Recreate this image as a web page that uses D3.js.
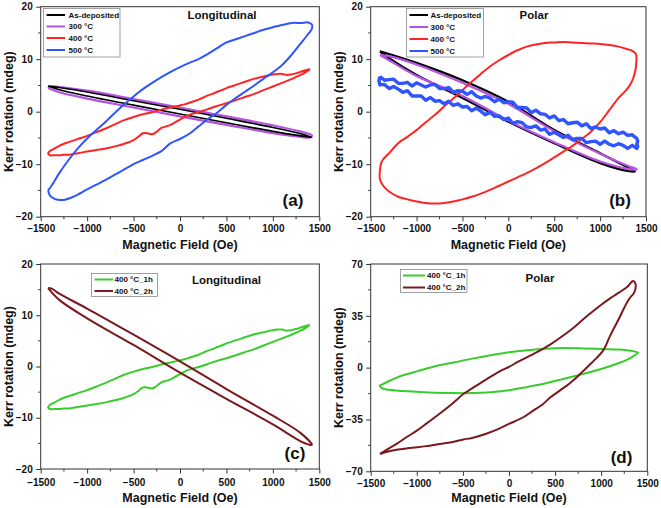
<!DOCTYPE html>
<html><head><meta charset="utf-8">
<script src="https://cdn.jsdelivr.net/npm/d3@7"></script>
<style>
body{margin:0;background:#fff}
svg{display:block}
text{font-family:"Liberation Sans",Arial,Helvetica,sans-serif;font-weight:bold;fill:#111}
</style>
</head><body>
<svg id="chart" width="661" height="508"></svg>
<script>
// ---------------- DATA ----------------
const xTicks = [-1500, -1000, -500, 0, 500, 1000, 1500];
const yTicksA = [-20, -10, 0, 10, 20];
const yTicksB = [-20, -10, 0, 10, 20];
const yTicksC = [-20, -10, 0, 10, 20];
const yTicksD = [-70, -35, 0, 35, 70];

const legendAB = ["As-deposited", "300 °C", "400 °C", "500 °C"];
const legendCD = ["400 °C_1h", "400 °C_2h"];

// Panel (a) Longitudinal  [field (Oe), Kerr rotation (mdeg)]
const a_asDeposited = [[-1420,4.9],[-1300,4.6],[-1000,3.75],[-500,2.1],[0,0.45],[500,-1.25],[1000,-3.0],[1300,-4.2],[1420,-4.9],[1300,-4.6],[1000,-3.75],[500,-2.1],[0,-0.45],[-500,1.25],[-1000,3.0],[-1300,4.2],[-1420,4.9]];
const a_300C = [[-1420,4.5],[-1400,4.8],[-1300,4.7],[-1000,4.0],[-500,2.4],[0,0.8],[500,-0.9],[1000,-2.6],[1300,-3.8],[1420,-4.5],[1400,-4.9],[1300,-4.8],[1000,-4.1],[500,-2.5],[0,-0.9],[-500,0.8],[-1000,2.5],[-1300,3.7],[-1420,4.5]];
const a_400C = [[1400,8.1],[1350,7.9],[1300,7.6],[1250,7.3],[1200,7.1],[1150,7.0],[1100,7.2],[1050,7.2],[1000,7.1],[950,6.9],[900,6.7],[850,6.5],[800,6.3],[750,6.0],[700,5.7],[650,5.4],[600,5.1],[550,4.8],[500,4.5],[450,4.1],[400,3.8],[350,3.4],[300,3.1],[250,2.7],[200,2.3],[150,2.0],[100,1.7],[50,1.4],[0,1.2],[-50,1.0],[-100,0.8],[-200,0.4],[-300,-0.1],[-400,-0.5],[-500,-1.0],[-600,-1.6],[-700,-2.4],[-800,-3.2],[-900,-3.9],[-1000,-4.6],[-1100,-5.2],[-1200,-5.8],[-1250,-6.1],[-1300,-6.5],[-1350,-7.0],[-1400,-7.5],[-1420,-8.0],[-1400,-8.3],[-1350,-8.3],[-1300,-8.3],[-1250,-8.2],[-1200,-8.2],[-1100,-7.9],[-1000,-7.6],[-900,-7.3],[-800,-7.0],[-700,-6.6],[-600,-6.1],[-500,-5.4],[-450,-4.8],[-400,-4.1],[-350,-4.1],[-300,-4.3],[-250,-3.8],[-200,-3.1],[-150,-2.8],[-100,-2.5],[-50,-2.0],[0,-1.5],[50,-1.0],[100,-0.6],[200,-0.1],[300,0.5],[400,1.1],[500,1.6],[600,2.2],[700,2.8],[800,3.4],[900,4.1],[1000,4.8],[1100,5.5],[1200,6.2],[1300,7.0],[1350,7.5],[1400,8.1]];
const a_500C = [[-1420,-15.0],[-1400,-16.0],[-1350,-16.6],[-1300,-16.8],[-1250,-16.8],[-1150,-16.2],[-1000,-14.8],[-900,-13.9],[-800,-13.0],[-700,-12.0],[-600,-11.0],[-500,-10.0],[-400,-9.2],[-300,-8.4],[-200,-7.5],[-100,-6.0],[0,-5.2],[100,-4.2],[200,-2.8],[300,-1.4],[400,-0.2],[500,1.3],[600,2.6],[700,3.8],[800,5.0],[900,6.3],[1000,7.5],[1100,8.9],[1200,10.8],[1300,13.0],[1380,14.8],[1420,15.8],[1420,16.6],[1380,17.0],[1300,16.9],[1200,16.9],[1100,16.5],[1000,16.1],[900,15.6],[800,15.0],[700,14.4],[600,13.8],[500,13.2],[400,12.1],[300,11.0],[200,10.0],[100,9.3],[0,8.5],[-100,7.6],[-200,6.6],[-300,5.5],[-400,4.3],[-500,2.9],[-600,1.4],[-700,-0.2],[-800,-1.9],[-900,-3.5],[-1000,-5.1],[-1100,-7.0],[-1200,-9.2],[-1300,-11.7],[-1380,-14.0],[-1420,-15.0]];

// Panel (b) Polar
const b_asDeposited = [[-1400,11.5],[-1300,11.0],[-1000,9.3],[-500,6.0],[0,1.9],[500,-3.5],[1000,-7.9],[1300,-10.6],[1380,-11.4],[1300,-11.3],[1000,-9.8],[500,-6.0],[0,-1.9],[-500,2.6],[-1000,7.0],[-1300,10.2],[-1400,11.5]];
const b_300C = [[-1400,10.8],[-1300,10.6],[-1000,9.0],[-500,5.5],[0,1.5],[500,-3.7],[1000,-8.0],[1300,-10.3],[1400,-11.0],[1300,-10.9],[1000,-9.5],[500,-5.8],[0,-1.7],[-500,3.0],[-1000,6.8],[-1300,9.8],[-1400,10.8]];
const b_400C = [[-1400,-11.4],[-1380,-9.5],[-1300,-7.9],[-1200,-6.0],[-1100,-4.8],[-1000,-3.5],[-900,-2.0],[-800,-0.6],[-700,1.0],[-600,2.5],[-500,4.1],[-400,5.7],[-300,7.2],[-200,8.6],[-100,9.8],[0,10.8],[100,11.7],[200,12.4],[300,12.8],[400,13.1],[500,13.2],[600,13.3],[700,13.2],[800,13.1],[900,13.0],[1000,12.9],[1100,12.7],[1200,12.4],[1300,11.9],[1350,11.6],[1390,11.0],[1395,9.5],[1380,7.5],[1340,5.5],[1280,4.0],[1200,2.6],[1100,0.3],[1000,-2.0],[900,-3.8],[800,-5.2],[700,-6.5],[600,-7.6],[500,-8.7],[400,-9.8],[300,-10.8],[200,-11.7],[100,-12.5],[0,-13.3],[-100,-14.1],[-200,-14.9],[-300,-15.6],[-400,-16.2],[-500,-16.7],[-600,-17.1],[-700,-17.4],[-800,-17.5],[-900,-17.4],[-1000,-17.1],[-1100,-16.7],[-1200,-16.2],[-1300,-15.2],[-1360,-14.2],[-1400,-12.8],[-1400,-11.4]];
const b_500C = [[-1400,6.7],[-1350,6.0],[-1300,6.1],[-1250,6.2],[-1200,5.4],[-1150,5.4],[-1100,5.6],[-1050,4.9],[-1000,5.5],[-950,5.1],[-900,4.7],[-850,5.1],[-800,5.2],[-750,4.4],[-700,4.4],[-650,4.6],[-600,3.7],[-550,4.0],[-500,3.9],[-450,3.3],[-400,3.8],[-350,3.0],[-300,2.6],[-250,2.9],[-200,2.6],[-150,1.9],[-100,2.4],[-50,1.7],[0,1.9],[50,1.8],[100,0.8],[150,0.8],[200,0.7],[250,-0.2],[300,0.3],[350,-0.4],[400,-0.5],[450,-1.2],[500,-0.8],[550,-1.7],[600,-1.5],[650,-2.3],[700,-2.1],[750,-2.0],[800,-2.7],[850,-2.3],[900,-3.2],[950,-2.9],[1000,-3.3],[1050,-3.1],[1100,-4.0],[1150,-3.6],[1200,-4.2],[1250,-3.9],[1300,-4.5],[1350,-4.4],[1400,-5.1],[1410,-5.6],[1400,-6.2],[1410,-6.6],[1400,-7.0],[1350,-6.4],[1300,-7.0],[1250,-6.4],[1200,-6.1],[1150,-6.5],[1100,-6.2],[1050,-5.6],[1000,-6.2],[950,-5.6],[900,-5.7],[850,-5.9],[800,-5.1],[750,-5.1],[700,-5.3],[650,-4.5],[600,-4.9],[550,-4.4],[500,-3.9],[450,-4.3],[400,-3.3],[350,-3.5],[300,-2.7],[250,-3.0],[200,-2.9],[150,-2.1],[100,-1.9],[50,-2.2],[0,-1.2],[-50,-1.5],[-100,-0.8],[-150,-0.9],[-200,-0.1],[-250,-0.6],[-300,0.1],[-350,0.7],[-400,0.2],[-450,1.0],[-500,0.9],[-550,1.5],[-600,1.2],[-650,2.0],[-700,1.5],[-750,2.1],[-800,2.0],[-850,2.7],[-900,2.2],[-950,3.0],[-1000,3.0],[-1050,3.0],[-1100,4.0],[-1150,3.7],[-1200,4.3],[-1250,4.8],[-1300,4.4],[-1350,5.2],[-1400,5.1],[-1410,5.9],[-1400,6.7]];

// Panel (c) Longitudinal
const c_400C_1h = a_400C; // same loop as 400 °C in (a)
const c_400C_2h = [[-1420,15.3],[-1380,15.2],[-1300,14.2],[-1000,11.3],[-500,6.2],[0,1.0],[500,-4.4],[1000,-9.6],[1300,-13.0],[1420,-15.3],[1380,-15.2],[1300,-14.6],[1000,-11.3],[500,-6.3],[0,-1.2],[-500,4.2],[-1000,9.4],[-1300,13.0],[-1420,15.3]];

// Panel (d) Polar
const d_400C_1h = [[1390,10.5],[1300,11.6],[1200,12.2],[1000,12.6],[800,13.0],[600,13.2],[400,12.8],[200,11.8],[0,10.4],[-200,8.4],[-400,6.1],[-600,3.5],[-800,1.0],[-1000,-2.5],[-1100,-4.3],[-1200,-6.3],[-1300,-9.0],[-1380,-11.5],[-1400,-12.2],[-1380,-13.8],[-1300,-15.0],[-1200,-15.6],[-1000,-16.3],[-800,-16.9],[-600,-17.2],[-400,-17.2],[-200,-16.6],[0,-15.3],[200,-13.0],[400,-10.5],[600,-7.5],[800,-4.3],[1000,-0.9],[1200,3.3],[1300,5.9],[1370,8.6],[1400,10.0],[1390,10.5]];
const d_400C_2h = [[-1400,-58.3],[-1300,-54.5],[-1220,-51.5],[-1100,-46.5],[-1000,-42.5],[-900,-38.0],[-750,-31.0],[-600,-23.5],[-495,-17.8],[-400,-14.0],[-240,-7.7],[-100,-2.5],[0,0.5],[100,4.0],[230,8.1],[350,12.0],[445,15.5],[550,20.0],[700,27.0],[850,35.0],[990,42.0],[1100,47.0],[1200,51.0],[1280,54.5],[1345,58.5],[1370,57.0],[1360,51.0],[1310,47.0],[1250,40.5],[1200,34.0],[1100,22.0],[1020,11.5],[900,3.5],[800,-2.5],[735,-6.5],[650,-11.0],[550,-15.5],[450,-20.0],[370,-24.5],[250,-29.5],[155,-33.5],[0,-38.0],[-100,-41.0],[-240,-44.5],[-400,-47.5],[-495,-48.5],[-600,-50.0],[-750,-51.5],[-900,-53.0],[-1000,-53.8],[-1100,-54.5],[-1220,-55.5],[-1300,-56.5],[-1400,-58.3]];

// ---------------- DRAWING ----------------
const svg = d3.select("#chart");
svg.append("rect").attr("width",661).attr("height",508).attr("fill","#fff");

const colors = {black:"#000000", purple:"#b652e4", red:"#ff2424", blue:"#2f55ff", green:"#38cc2c", brown:"#7a1a1e"};

function panel(cfg){
  const g = svg.append("g");
  const x = d3.scaleLinear().domain([-1500,1500]).range([cfg.left, cfg.right]);
  const y = d3.scaleLinear().domain(cfg.yDomain).range([cfg.bottom, cfg.top]);

  const xMinor = d3.range(-1250, 1500, 500);
  g.append("g").selectAll("line").data(xMinor).join("line")
    .attr("x1",d=>x(d)).attr("x2",d=>x(d)).attr("y1",cfg.bottom).attr("y2",cfg.bottom+2.5)
    .attr("stroke","#333");
  g.append("g").selectAll("line").data(cfg.yMinor).join("line")
    .attr("y1",d=>y(d)).attr("y2",d=>y(d)).attr("x1",cfg.left).attr("x2",cfg.left-2.5)
    .attr("stroke","#333");

  const xa = g.append("g").attr("transform",`translate(0,${cfg.bottom})`)
    .call(d3.axisBottom(x).tickValues(xTicks).tickSize(4.5).tickPadding(cfg.xPad).tickFormat(d3.format("d")));
  const ya = g.append("g").attr("transform",`translate(${cfg.left},0)`)
    .call(d3.axisLeft(y).tickValues(cfg.yTicks).tickSize(4.5).tickPadding(3.5).tickFormat(d3.format("d")));
  [xa,ya].forEach(a=>{
    a.select(".domain").remove();
    a.selectAll("line").attr("stroke","#333");
    a.selectAll("text").attr("font-size",10).attr("font-family",null).style("font-weight","bold").attr("fill","#111");
  });

  const clipId = "clip"+cfg.id;
  svg.append("clipPath").attr("id",clipId).append("rect")
    .attr("x",cfg.left).attr("y",cfg.top).attr("width",cfg.right-cfg.left).attr("height",cfg.bottom-cfg.top);

  const lineSmooth = d3.line().x(d=>x(d[0])).y(d=>y(d[1])).curve(d3.curveCatmullRom.alpha(0.5));
  const lineRaw = d3.line().x(d=>x(d[0])).y(d=>y(d[1]));
  const cg = g.append("g").attr("clip-path",`url(#${clipId})`);
  cfg.series.forEach(s=>{
    cg.append("path").attr("d",(s.raw?lineRaw:lineSmooth)(s.data))
      .attr("fill","none").attr("stroke",s.color).attr("stroke-width",s.w||2)
      .attr("stroke-linejoin","round");
  });

  g.append("rect").attr("x",cfg.left).attr("y",cfg.top)
    .attr("width",cfg.right-cfg.left).attr("height",cfg.bottom-cfg.top)
    .attr("fill","none").attr("stroke","#333").attr("stroke-width",1);

  g.append("text").attr("x",(cfg.left+cfg.right)/2).attr("y",cfg.xTitleY)
    .attr("text-anchor","middle").attr("font-size",12.5).text("Magnetic Field (Oe)");
  g.append("text").attr("transform",`translate(${cfg.yTitleX},${(cfg.top+cfg.bottom)/2}) rotate(-90)`)
    .attr("text-anchor","middle").attr("font-size",12.5).text("Kerr rotation (mdeg)");

  g.append("text").attr("x",cfg.titleX).attr("y",cfg.titleY).attr("text-anchor","middle")
    .attr("font-size",11.5).text(cfg.title);
  g.append("text").attr("x",cfg.letterX).attr("y",cfg.letterY).attr("text-anchor","middle")
    .attr("font-size",17).text(cfg.letter);

  const L = cfg.legend;
  g.append("rect").attr("x",L.x).attr("y",L.y).attr("width",L.w).attr("height",L.h)
    .attr("fill","#fff").attr("stroke","#8a8a8a").attr("stroke-width",0.8);
  L.items.forEach((it,i)=>{
    const yy = L.rows[i];
    g.append("line").attr("x1",L.lx1).attr("x2",L.lx2).attr("y1",yy).attr("y2",yy)
      .attr("stroke",it.color).attr("stroke-width",2);
    g.append("text").attr("x",L.tx).attr("y",yy+2.9).attr("font-size",8).text(it.label);
  });
}

panel({
  id:"a", left:40.7, right:319.3, top:6.7, bottom:216.7, yDomain:[-20,20], yTicks:yTicksA,
  yMinor:[-15,-5,5,15], xPad:4, xTitleY:249, yTitleX:12.5,
  title:"Longitudinal", titleX:222, titleY:19, letter:"(a)", letterX:293, letterY:206,
  series:[
    {data:a_300C, color:colors.purple, w:2.2},
    {data:a_asDeposited, color:colors.black, w:1.6},
    {data:a_400C, color:colors.red},
    {data:a_500C, color:colors.blue}
  ],
  legend:{x:43.5,y:8.5,w:76.5,h:48.5,lx1:46.5,lx2:65,tx:68.5,rows:[15,26.5,38,50],
    items:[{label:legendAB[0],color:colors.black},{label:legendAB[1],color:colors.purple},{label:legendAB[2],color:colors.red},{label:legendAB[3],color:colors.blue}]}
});

panel({
  id:"b", left:370.7, right:646, top:6.7, bottom:216.7, yDomain:[-20,20], yTicks:yTicksB,
  yMinor:[-15,-5,5,15], xPad:4, xTitleY:249, yTitleX:342.5,
  title:"Polar", titleX:534, titleY:19, letter:"(b)", letterX:620, letterY:206,
  series:[
    {data:b_asDeposited, color:colors.black, w:2.2},
    {data:b_300C, color:colors.purple, w:2.2},
    {data:b_400C, color:colors.red},
    {data:b_500C, color:colors.blue, raw:true, w:3.4}
  ],
  legend:{x:406.5,y:8.5,w:77,h:48.5,lx1:409.5,lx2:428,tx:430.5,rows:[15,27,39,51],
    items:[{label:legendAB[0],color:colors.black},{label:legendAB[1],color:colors.purple},{label:legendAB[2],color:colors.red},{label:legendAB[3],color:colors.blue}]}
});

panel({
  id:"c", left:40.7, right:319.3, top:264, bottom:469, yDomain:[-20,20], yTicks:yTicksC,
  yMinor:[-15,-5,5,15], xPad:5.5, xTitleY:502, yTitleX:12.5,
  title:"Longitudinal", titleX:226.5, titleY:284, letter:"(c)", letterX:295, letterY:459,
  series:[
    {data:c_400C_1h, color:colors.green},
    {data:c_400C_2h, color:colors.brown}
  ],
  legend:{x:91.5,y:273.5,w:66,h:23,lx1:94.5,lx2:113,tx:114.5,rows:[279.5,291],
    items:[{label:legendCD[0],color:colors.green},{label:legendCD[1],color:colors.brown}]}
});

panel({
  id:"d", left:370.7, right:647.3, top:264, bottom:471.3, yDomain:[-70,70], yTicks:yTicksD,
  yMinor:[-52.5,-17.5,17.5,52.5], xPad:4, xTitleY:502, yTitleX:342.5,
  title:"Polar", titleX:540, titleY:282, letter:"(d)", letterX:621.5, letterY:463,
  series:[
    {data:d_400C_1h, color:colors.green},
    {data:d_400C_2h, color:colors.brown}
  ],
  legend:{x:400.5,y:269.5,w:66.5,h:23,lx1:403,lx2:425,tx:427,rows:[275.5,287.5],
    items:[{label:legendCD[0],color:colors.green},{label:legendCD[1],color:colors.brown}]}
});
</script>
</body></html>
